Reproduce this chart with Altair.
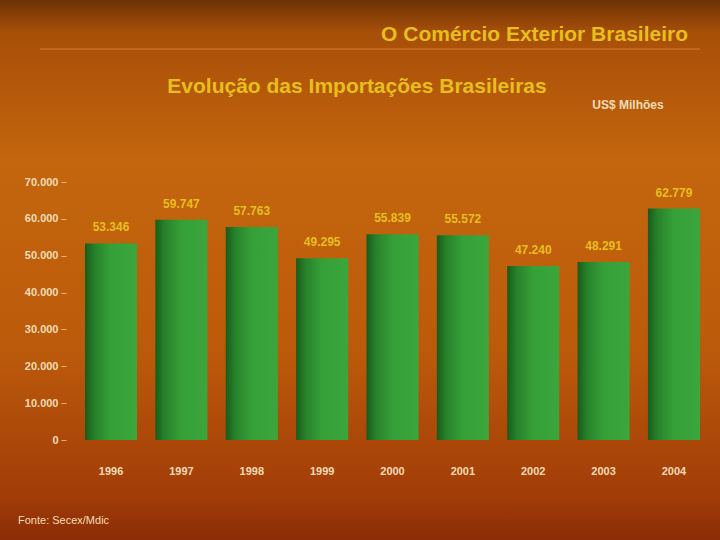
import altair as alt
import pandas as pd

# Brazilian imports, US$ millions
anos = ["1996", "1997", "1998", "1999", "2000", "2001", "2002", "2003", "2004"]
importacoes = [53346, 59747, 57763, 49295, 55839, 55572, 47240, 48291, 62779]
marcas_y = [0, 10000, 20000, 30000, 40000, 50000, 60000, 70000]

titulo = "O Comércio Exterior Brasileiro"
subtitulo = "Evolução das Importações Brasileiras"
unidade = "US$ Milhões"
fonte = "Fonte: Secex/Mdic"

df = pd.DataFrame({"ano": anos, "valor": importacoes})

W, H = 653, 258
PAD_L, PAD_T = 66, 182
TOTAL_W, TOTAL_H = 720, 540

cream = "#f2dcb6"
yellow = "#e6bf1c"

# orange-brown backdrop covering the whole canvas
fundo = alt.Chart(alt.Data(values=[{}])).mark_rect(
    color=alt.LinearGradient(
        gradient="linear",
        stops=[
            alt.GradientStop(color="#6c3204", offset=0),
            alt.GradientStop(color="#a84f08", offset=0.06),
            alt.GradientStop(color="#c4660e", offset=0.3),
            alt.GradientStop(color="#bc5a0b", offset=0.65),
            alt.GradientStop(color="#a23c08", offset=0.92),
            alt.GradientStop(color="#8a2c06", offset=1),
        ],
        x1=0, x2=0, y1=0, y2=1,
    )
).encode(
    x=alt.value(-PAD_L), x2=alt.value(TOTAL_W - PAD_L),
    y=alt.value(-PAD_T), y2=alt.value(TOTAL_H - PAD_T),
)

linha = alt.Chart(alt.Data(values=[{}])).mark_rule(
    color="#e8a24a", strokeWidth=1.2, opacity=0.6
).encode(
    x=alt.value(40 - PAD_L), x2=alt.value(700 - PAD_L),
    y=alt.value(49 - PAD_T),
)

def texto(t, x, y, size, color, align="center", bold=True):
    return alt.Chart(alt.Data(values=[{"t": t}])).mark_text(
        font="Liberation Sans", fontSize=size,
        fontWeight="bold" if bold else "normal",
        color=color, align=align, baseline="middle",
    ).encode(text="t:N", x=alt.value(x - PAD_L), y=alt.value(y - PAD_T))

t1 = texto(titulo, 688, 35, 21, yellow, align="right")
t2 = texto(subtitulo, 357, 87, 21, yellow)
t3 = texto(unidade, 628, 105, 12, cream)
t4 = texto(fonte, 18, 521, 11, cream, align="left", bold=False)

xscale = alt.Scale(paddingInner=0.26, paddingOuter=0.27)
yscale = alt.Scale(domain=[0, 70000], nice=False)

xaxis = alt.Axis(domain=False, ticks=False, labelAngle=0, labelPadding=25,
                 labelColor=cream, labelFont="Liberation Sans",
                 labelFontSize=11, labelFontWeight="bold", zindex=1)
yaxis = alt.Axis(values=marcas_y, grid=False, domain=False,
                 ticks=True, tickColor=cream, tickSize=5, tickOpacity=0.7,
                 labelColor=cream, labelFont="Liberation Sans",
                 labelFontSize=11, labelFontWeight="bold", labelPadding=3,
                 labelOverlap=False, labelFlush=False,
                 labelExpr="replace(format(datum.value, ',d'), ',', '.')",
                 zindex=1)

xenc = alt.X("ano:N", sort=anos, title=None, scale=xscale, axis=xaxis)
yenc = alt.Y("valor:Q", title=None, scale=yscale, axis=yaxis)

barras = alt.Chart(df).mark_bar(
    color=alt.LinearGradient(
        gradient="linear",
        stops=[
            alt.GradientStop(color="#1a5a1a", offset=0),
            alt.GradientStop(color="#27812a", offset=0.18),
            alt.GradientStop(color="#36a038", offset=0.5),
            alt.GradientStop(color="#3aa63c", offset=1),
        ],
        x1=0, x2=1, y1=0, y2=0,
    )
).encode(x=xenc, y=yenc)

rotulos = alt.Chart(df).transform_calculate(
    rot="replace(format(datum.valor, ',d'), ',', '.')"
).mark_text(
    font="Liberation Sans", fontSize=12, fontWeight="bold",
    color=yellow, dy=-16, baseline="middle",
).encode(x=xenc, y=yenc, text="rot:N")

chart = alt.layer(fundo, linha, t1, t2, t3, t4, barras, rotulos).properties(
    width=W, height=H,
    padding={"left": PAD_L, "top": PAD_T, "right": TOTAL_W - PAD_L - W,
             "bottom": TOTAL_H - PAD_T - H},
    autosize=alt.AutoSizeParams(type="none"),
    background="#b5560a",
).configure_view(stroke=None)

chart.save("out.html", embed_options={"renderer": "svg", "actions": False})
